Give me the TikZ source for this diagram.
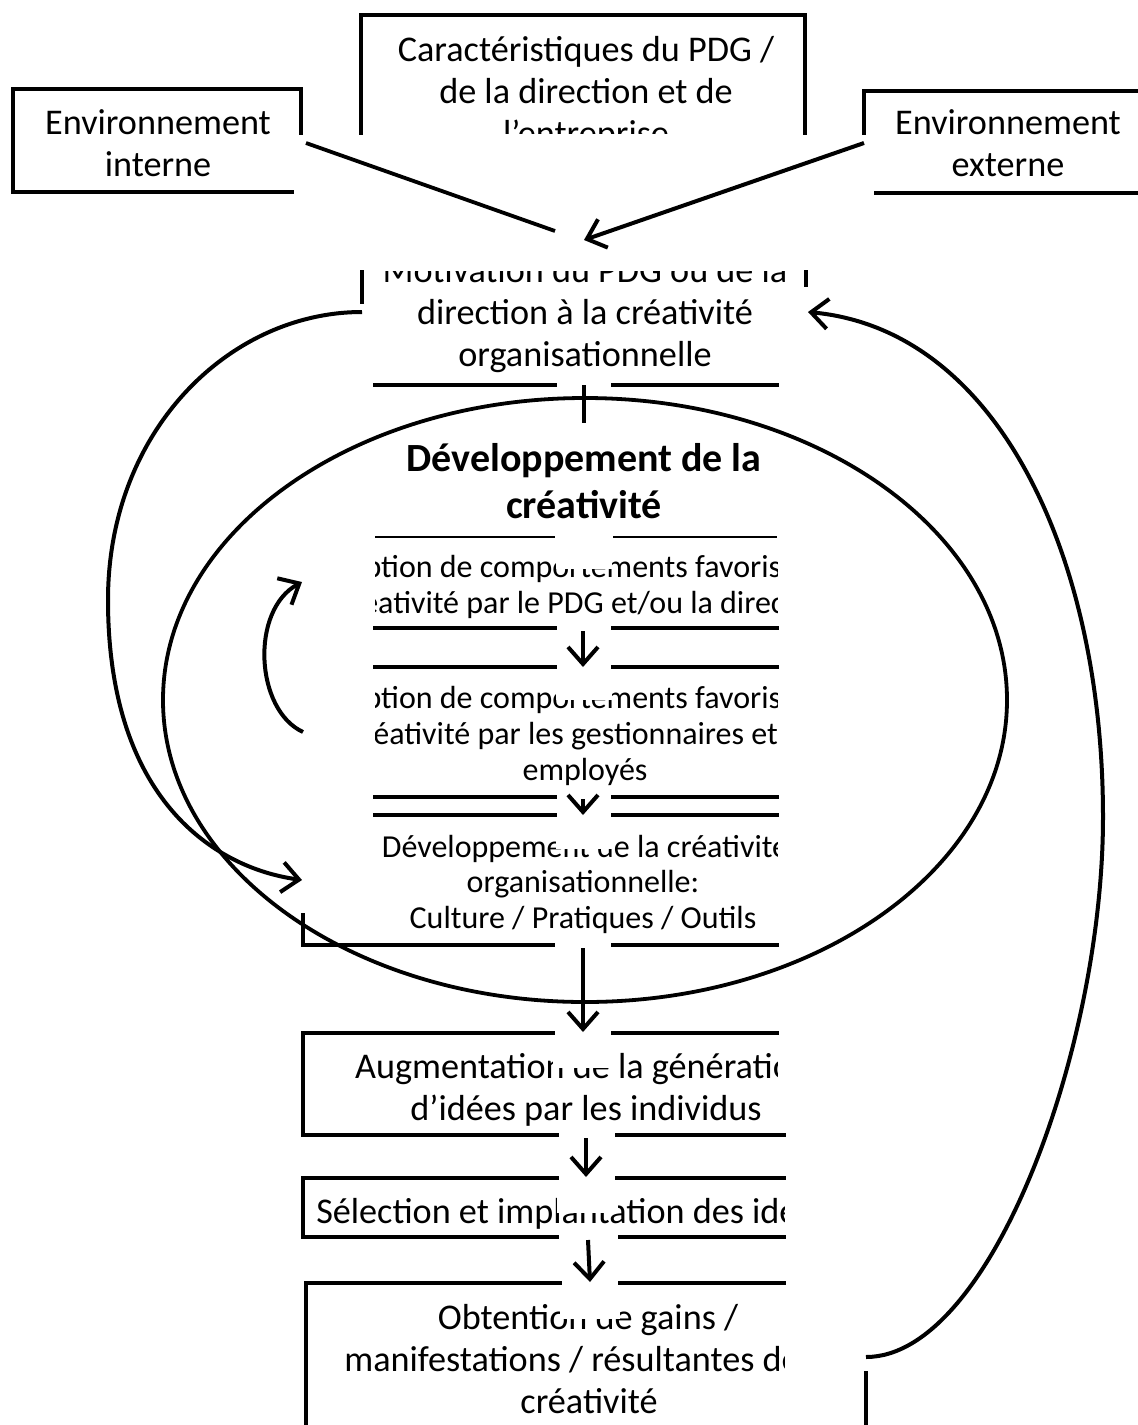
\documentclass[tikz,border=0pt]{standalone}
\usepackage{fontspec}
\setmainfont{Carlito}
\usetikzlibrary{arrows.meta}
\begin{document}
\begin{tikzpicture}[x=1pt,y=-1pt,
  frame/.style={line width=4pt, line cap=rect},
  thinframe/.style={line width=2.5pt},
  link/.style={line width=4pt, -{Straight Barb[length=17pt,width=30pt]}},
  curve/.style={line width=3.8pt},
  big/.style={font=\fontsize{36.2}{42}\selectfont, inner sep=0pt, anchor=base},
  mid/.style={font=\fontsize{32}{36}\selectfont, inner sep=0pt, anchor=base},
  head/.style={font=\fontsize{40}{47}\selectfont\bfseries, inner sep=0pt, anchor=base},
  mask/.style={fill=white, draw=none}]
\useasboundingbox (0,0) rectangle (1138,1425);

% ---------- texts ----------
\node[big] (c1) at (586,61) {Caractéristiques du PDG /};
\node[big] (c2) at (586,103) {de la direction et de};
\begin{scope}
  \clip (361,100) rectangle (805,133);
  \node[big] (c3) at (586,145) {l’entreprise};
\end{scope}

\node[big] (i1) at (158,134) {Environnement};
\node[big] (i2) at (158,176) {interne};
\node[big] (e1) at (1008,134) {Environnement};
\node[big] (e2) at (1008,176) {externe};

\begin{scope}
  \clip (362,271) rectangle (806,300);
  \node[big] (m1) at (585,282) {Motivation du PDG ou de la};
\end{scope}
\node[big] (m2) at (585,324) {direction à la créativité};
\node[big] (m3) at (585,366) {organisationnelle};

\node[head] (h1) at (584,471) {Développement de la};
\node[head] (h2) at (584,518) {créativité};

\begin{scope}
  \clip (375,540) rectangle (777,960);
  \node[mid] (a1) at (583,577) {Adoption de comportements favorisant la};
  \node[mid] (a2) at (587,613) {créativité par le PDG et/ou la direction};
  \node[mid] (b1) at (583,708) {Adoption de comportements favorisant la};
  \node[mid] (b2) at (585,744) {créativité par les gestionnaires et les};
  \node[mid] (b3) at (585,780) {employés};
  \node[mid] (d1) at (585,857) {Développement de la créativité};
  \node[mid] (d2) at (583,892) {organisationnelle:};
  \node[mid] (d3) at (583,928) {Culture / Pratiques / Outils};
\end{scope}

\begin{scope}
  \clip (290,1040) rectangle (777,1090);
  \node[big] (g1) at (583,1078) {Augmentation de la génération};
\end{scope}
\node[big] (g2) at (586,1120) {d’idées par les individus};
\begin{scope}
  \clip (290,1180) rectangle (784,1425);
  \node[big] (s1) at (573,1223) {Sélection et implantation des idées};
  \node[big] (o1) at (588,1329) {Obtention de gains /};
  \node[big] (o2) at (589,1371) {manifestations / résultantes de la};
  \node[big] (o3) at (589,1413) {créativité};
\end{scope}

% white gaps left around the vertical connectors
\fill[mask] (556,537) rectangle (612,569);
\fill[mask] (556,667) rectangle (612,700);
\fill[mask] (556,815) rectangle (612,849);
\fill[mask] (553,1033) rectangle (614,1068);
\fill[mask] (557,1178) rectangle (618,1213);
\fill[mask] (560,1283) rectangle (620,1319);

% ---------- box outlines ----------
% top box
\draw[frame] (361,133) -- (361,15) -- (805,15) -- (805,133);
% internal environment
\draw[frame] (301,133) -- (301,89) -- (13,89) -- (13,192) -- (292,192);
% external environment
\draw[frame] (864,133) -- (864,91) -- (1140,91);
\draw[frame] (876,193) -- (1140,193);
% motivation
\draw[frame] (362,272) -- (362,302);
\draw[frame] (806,272) -- (806,285);
\draw[frame] (375,385) -- (555,385) (613,385) -- (777,385);
% inner boxes
\draw[thinframe] (375,537) -- (555,537) (613,537) -- (777,537);
\draw[frame] (375,628) -- (555,628) (613,628) -- (777,628);
\draw[frame] (375,667) -- (555,667) (613,667) -- (777,667);
\draw[frame] (375,797) -- (555,797) (613,797) -- (777,797);
\draw[frame] (375,815) -- (555,815) (613,815) -- (777,815);
\draw[frame] (303,915) -- (303,945) -- (553,945) (613,945) -- (777,945);
% lower boxes
\draw[frame] (553,1033) -- (303,1033) -- (303,1135) -- (557,1135);
\draw[frame] (613,1033) -- (777,1033) (617,1135) -- (784,1135);
\draw[frame] (557,1178) -- (303,1178) -- (303,1237) -- (557,1237);
\draw[frame] (617,1178) -- (784,1178) (620,1237) -- (784,1237);
\draw[frame] (560,1283) -- (306,1283) -- (306,1430);
\draw[frame] (620,1283) -- (784,1283);
\draw[frame] (866,1373) -- (866,1430);

% ---------- development ellipse ----------
\draw[curve] (585,700) ellipse [x radius=422, y radius=302];

% ---------- connectors ----------
\coordinate (eS) at (864,143);
\coordinate (eE) at (584,240);
\draw[link] (eS) -- (eE);
\coordinate (iS) at (306,143);
\coordinate (iE) at (555,231);
\draw[curve] (iS) -- (iE);

\coordinate (mB) at (584,385);
\coordinate (mT) at (584,423);
\draw[curve] (mB) -- (mT);

\coordinate (aB) at (583,631);
\coordinate (bT) at (583,667);
\draw[link] (aB) -- (bT);
\coordinate (bB) at (583,799);
\coordinate (dT) at (583,815);
\draw[link] (bB) -- (dT);
\coordinate (dB) at (583,948);
\coordinate (gT) at (583,1032);
\draw[link] (dB) -- (gT);
\coordinate (gB) at (586,1138);
\coordinate (sT) at (586,1177);
\draw[link] (gB) -- (sT);
\coordinate (sB) at (588,1240);
\coordinate (oT) at (590,1282);
\draw[link] (sB) -- (oT);

% feedback loops
\coordinate (mL) at (362,312);
\coordinate (dL) at (302,880);
\draw[link] (mL) .. controls (230,312) and (108,430) .. (108,600)
               .. controls (108,800) and (215,868) .. (dL);
\coordinate (bL) at (303,732);
\coordinate (aL) at (302,582);
\draw[link] (bL) .. controls (255,710) and (250,610) .. (aL);
\coordinate (oR) at (866,1357);
\coordinate (mR) at (808,312);
\draw[link] (oR) .. controls (990,1357) and (1103,1050) .. (1103,817)
               .. controls (1103,560) and (1000,330) .. (mR);
\end{tikzpicture}
\end{document}
